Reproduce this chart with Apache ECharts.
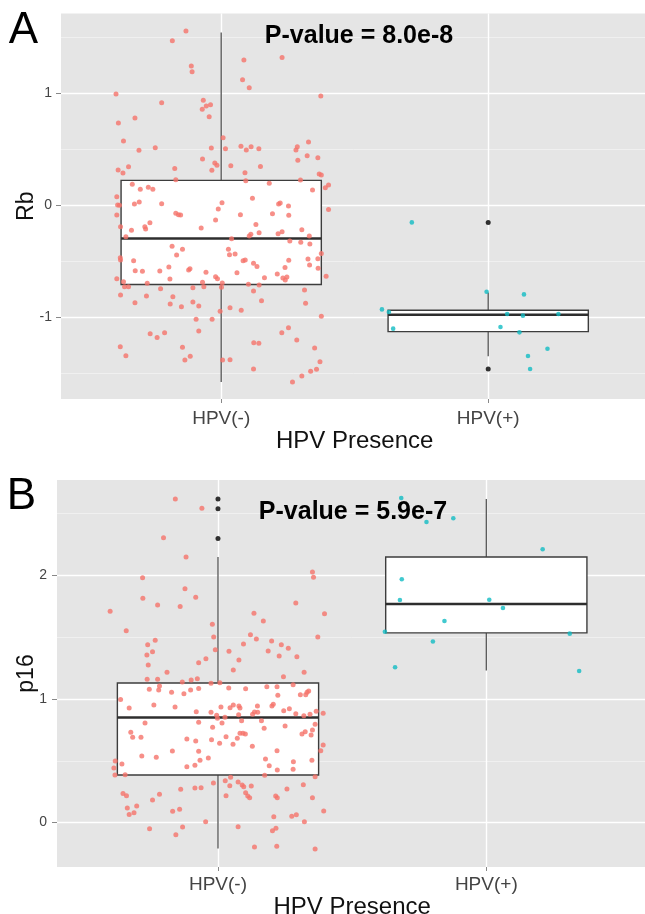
<!DOCTYPE html>
<html>
<head>
<meta charset="utf-8">
<script src="https://cdn.jsdelivr.net/npm/echarts@6/dist/echarts.min.js"></script>
<style>html,body{margin:0;padding:0;background:#fff;}#c{width:645px;height:914px;}</style>
</head>
<body>
<div id="c"></div>
<script>
// ---------- DATA ----------
const categories = ['HPV(-)', 'HPV(+)'];
const xAxisTitle = 'HPV Presence';
const panelTitles = ['A', 'B'];
const pValueTexts = ['P-value = 8.0e-8', 'P-value = 5.9e-7'];
const yTitles = ['Rb', 'p16'];
const categoryPositions = [1, 2];
const rbTicks = [-1, 0, 1];
const rbMinorTicks = [-1.5, -0.5, 0.5, 1.5];
const p16Ticks = [0, 1, 2];
const p16MinorTicks = [-0.5, 0.5, 1.5, 2.5];

// box stats: [min whisker, Q1, median, Q3, max whisker]
const rbBoxNeg = [-1.58, -0.71, -0.30, 0.22, 1.54];
const rbBoxPos = [-1.35, -1.13, -0.98, -0.94, -0.78];
const rbOutliersPos = [-0.155, -1.464];
const p16BoxNeg = [-0.21, 0.385, 0.85, 1.13, 2.15];
const p16BoxPos = [1.23, 1.535, 1.77, 2.15, 2.62];
const p16OutliersNeg = [2.62, 2.54, 2.30];

// jittered points: [horizontal jitter offset, value]
const rbNeg = [
[-0.132,1.554],[-0.183,1.467],[-0.112,1.241],[-0.109,1.190],[0.085,1.295],[0.228,1.318],[0.080,1.119],[0.105,1.047],
[-0.394,0.991],[0.373,0.973],[-0.223,0.914],[-0.067,0.935],[-0.056,0.884],[-0.040,0.896],[-0.071,0.854],[-0.045,0.789],
[-0.385,0.732],[-0.323,0.777],[-0.366,0.571],[-0.308,0.488],[-0.247,0.512],[0.007,0.601],[-0.037,0.509],[0.016,0.503],
[0.074,0.524],[0.094,0.491],[0.112,0.521],[0.141,0.503],[0.280,0.491],[0.285,0.521],[0.327,0.563],[0.322,0.440],
[0.362,0.423],[0.287,0.399],[-0.070,0.411],[-0.024,0.375],[-0.016,0.354],[0.036,0.351],[0.147,0.345],[-0.386,0.313],
[-0.368,0.286],[-0.347,0.342],[-0.174,0.327],[-0.035,0.310],[0.089,0.289],[0.367,0.277],[0.375,0.268],[-0.170,0.226],
[0.092,0.217],[0.180,0.194],[0.297,0.223],[0.402,0.179],[0.390,0.155],[-0.333,0.185],[-0.303,0.140],[-0.273,0.158],
[-0.256,0.140],[0.342,0.134],
[-0.391,0.074],[-0.388,0.000],[-0.381,-0.003],[-0.391,-0.089],[-0.377,-0.193],[-0.357,-0.283],[-0.336,-0.226],[-0.325,0.009],
[-0.307,0.027],[-0.286,-0.193],[-0.283,-0.214],[-0.267,-0.158],[-0.223,0.012],[-0.170,-0.074],[-0.160,-0.086],[-0.152,-0.089],
[-0.075,-0.205],[-0.021,-0.134],[-0.011,-0.036],[0.003,0.021],[0.072,-0.086],[0.117,0.060],[0.130,-0.173],[0.142,-0.247],
[0.105,-0.277],[0.111,-0.262],[0.192,-0.077],[0.215,0.009],[0.221,0.018],[0.252,-0.009],[0.253,-0.092],[0.213,-0.256],
[0.228,-0.238],[0.257,-0.321],[0.302,-0.220],[0.298,-0.333],[0.332,-0.348],[0.330,-0.277],[0.402,-0.039],[0.375,-0.432],
[0.362,-0.479],[0.325,-0.482],[0.331,-0.536],[0.363,-0.565],[0.393,-0.637],[0.253,-0.494],[0.239,-0.557],[0.210,-0.616],
[0.231,-0.652],[0.246,-0.643],[0.240,-0.670],[0.162,-0.649],[0.142,-0.714],[0.102,-0.708],[0.121,-0.768],[0.151,-0.854],
[0.121,-0.521],[0.134,-0.548],[0.059,-0.604],[0.090,-0.491],[0.082,-0.497],[0.027,-0.396],[0.031,-0.443],[0.052,-0.438],
[0.039,-0.301],[-0.021,-0.640],[-0.014,-0.658],[0.004,-0.696],[0.001,-0.735],[-0.004,-0.949],[0.033,-0.917],[0.075,-0.940],
[-0.057,-0.601],[-0.070,-0.690],[-0.065,-0.729],[-0.106,-0.738],[-0.106,-0.866],[-0.084,-0.902],[-0.094,-1.021],[-0.034,-1.021],
[-0.084,-1.125],[-0.122,-0.580],[-0.117,-0.568],[-0.192,-0.661],[-0.196,-0.554],[-0.230,-0.589],[-0.227,-0.747],[-0.167,-0.446],
[-0.184,-0.369],[-0.145,-0.396],[-0.181,-0.819],[-0.191,-0.884],[-0.149,-0.908],[-0.212,-1.140],[-0.266,-1.149],[-0.240,-1.182],
[-0.280,-0.813],[-0.323,-0.872],[-0.377,-0.804],[-0.362,-0.729],[-0.347,-0.729],[-0.366,-0.685],[-0.391,-0.658],[-0.277,-0.699],
[-0.322,-0.586],[-0.295,-0.592],[-0.328,-0.497],[-0.378,-0.470],[-0.377,-0.491],[-0.378,-1.265],[-0.357,-1.345],[-0.145,-1.271],
[-0.136,-1.384],[-0.116,-1.351],[0.005,-1.384],[0.033,-1.381],[0.122,-1.229],[0.141,-1.235],[0.121,-1.464],[0.227,-1.140],
[0.252,-1.095],[0.283,-1.205],[0.350,-1.277],[0.370,-1.399],[0.357,-1.467],[0.335,-1.485],[0.302,-1.527],[0.267,-1.580],
[0.375,-0.994],[0.312,-0.759],[0.316,-0.878]
];
const rbPos = [
[-0.286,-0.155],[-0.006,-0.774],[0.134,-0.798],[-0.398,-0.932],[-0.372,-0.955],[-0.356,-1.104],[0.071,-0.973],
[0.130,-0.988],[0.263,-0.973],[0.046,-1.089],[0.117,-1.137],[0.222,-1.283],[0.149,-1.348],[0.157,-1.464]
];
const p16Neg = [
[-0.159,2.619],[-0.060,2.544],[-0.203,2.306],[-0.119,2.150],[-0.281,1.982],[-0.123,1.893],[-0.280,1.815],[-0.083,1.823],
[-0.225,1.761],[-0.141,1.748],[-0.402,1.710],[-0.342,1.553],[-0.262,1.440],[-0.234,1.475],[-0.265,1.356],[-0.244,1.383],
[-0.260,1.275],[-0.190,1.216],[-0.264,1.159],[-0.225,1.159],[-0.021,1.605],[-0.016,1.502],[-0.010,1.399],[-0.072,1.294],
[-0.045,1.326],[0.041,1.386],[0.078,1.316],[0.057,1.235],[0.095,1.445],[0.121,1.521],[0.143,1.486],[0.134,1.694],
[0.169,1.632],[0.187,1.389],[0.200,1.470],[0.228,1.348],[0.236,1.440],[0.262,1.410],[0.294,1.343],[0.290,1.777],
[0.244,1.181],[0.321,1.216],[0.352,2.028],[0.356,1.985],[0.397,1.691],[0.372,1.502],[0.007,1.132],[-0.026,1.127],
[-0.077,1.165],[-0.100,1.154],[-0.133,1.138],
[-0.256,1.078],[-0.221,1.073],[-0.218,1.105],[-0.173,1.054],[-0.127,1.043],[-0.102,1.073],[-0.072,1.086],[-0.363,0.997],
[-0.331,0.927],[-0.239,0.951],[-0.160,0.935],[-0.081,0.897],[-0.026,0.892],[-0.005,0.868],[0.011,0.935],[0.026,0.852],
[0.040,1.089],[0.045,0.930],[0.057,0.951],[0.078,0.943],[0.082,0.927],[0.077,0.873],[0.103,1.083],[0.129,0.876],
[0.136,0.895],[0.148,0.892],[0.147,0.943],[0.182,1.100],[0.220,1.100],[0.223,1.030],[0.201,0.943],[0.206,0.957],
[0.245,0.905],[0.266,0.922],[0.280,1.116],[0.290,0.881],[0.307,1.035],[0.327,1.035],[0.332,1.054],[0.338,1.065],
[0.320,0.865],[0.343,0.876],[0.366,0.900],[0.392,0.884],[0.362,0.795],[0.352,0.749],[0.325,0.735],[0.313,0.717],
[0.347,0.709],[0.250,0.781],[0.172,0.763],[0.162,0.824],[0.088,0.824],[0.082,0.722],[0.093,0.722],[0.102,0.717],
[0.072,0.682],[0.056,0.633],[0.030,0.695],[0.006,0.641],[0.015,0.806],[-0.020,0.771],[-0.002,0.844],[-0.024,0.671],
[-0.072,0.811],[-0.116,0.676],[-0.083,0.660],[-0.072,0.577],[-0.067,0.504],[-0.086,0.463],[-0.116,0.452],[-0.036,0.522],
[0.128,0.617],[0.177,0.514],[0.191,0.460],[0.221,0.425],[0.220,0.581],[0.281,0.492],[0.280,0.431],[0.350,0.504],
[0.383,0.581],[0.392,0.628],[0.174,0.382],[0.362,0.371],[-0.170,0.579],[-0.230,0.528],[-0.284,0.538],[-0.325,0.730],
[-0.318,0.690],[-0.287,0.690],[-0.272,0.806],[-0.358,0.474],[-0.383,0.498],[-0.388,0.441],[-0.384,0.385],[-0.346,0.387],
[-0.354,0.236],[-0.341,0.217],[-0.303,0.134],[-0.338,0.117],[-0.331,0.066],[-0.313,0.079],[-0.244,0.182],[-0.218,0.228],
[-0.255,-0.050],[-0.157,-0.099],[-0.132,-0.036],[-0.169,0.091],[-0.143,0.107],[-0.139,0.269],[-0.086,0.279],[-0.063,0.282],
[-0.046,0.007],[-0.017,0.320],[0.027,0.339],[0.047,0.366],[0.044,0.298],[0.030,0.217],[0.075,0.328],[0.090,0.304],
[0.096,0.290],[0.124,0.296],[0.103,0.242],[0.111,0.215],[0.118,0.201],[0.075,-0.034],[0.136,-0.198],[0.219,-0.193],
[0.362,-0.215],[0.208,0.047],[0.203,-0.066],[0.216,-0.047],[0.215,0.215],[0.221,0.201],[0.257,0.271],[0.318,0.306],
[0.352,0.201],[0.394,0.093],[0.275,0.050],[0.292,0.063],[0.322,0.007]
];
const p16Pos = [
[-0.317,2.627],[-0.223,2.433],[-0.123,2.463],[0.210,2.212],[-0.315,1.969],[-0.322,1.802],[0.011,1.804],
[0.062,1.737],[-0.156,1.632],[-0.378,1.545],[0.311,1.529],[-0.199,1.465],[-0.340,1.257],[0.346,1.227]
];

// ---------- CHART ----------
const FONT = '"Liberation Sans", Arial, Helvetica, sans-serif';
const RED = '#F5736A', TEAL = '#12BCC3';
const chart = echarts.init(document.getElementById('c'), null, {renderer: 'canvas'});

function renderBox(params, api) {
  const x = api.value(0);
  const half = 0.375;
  const c = api.coord([x, api.value(3)]);
  const pMin = api.coord([x, api.value(1)]);
  const pQ1 = api.coord([x, api.value(2)]);
  const pQ3 = api.coord([x, api.value(4)]);
  const pMax = api.coord([x, api.value(5)]);
  const xl = api.coord([x - half, 0])[0];
  const xr = api.coord([x + half, 0])[0];
  const lineStyle = {stroke: '#555', lineWidth: 1.3};
  return {
    type: 'group',
    children: [
      {type: 'line', shape: {x1: c[0], y1: pMax[1], x2: c[0], y2: pQ3[1]}, style: lineStyle},
      {type: 'line', shape: {x1: c[0], y1: pQ1[1], x2: c[0], y2: pMin[1]}, style: lineStyle},
      {type: 'rect', shape: {x: xl, y: pQ3[1], width: xr - xl, height: pQ1[1] - pQ3[1]},
        style: {fill: '#fff', stroke: '#3d3d3d', lineWidth: 1.4}},
      {type: 'line', shape: {x1: xl, y1: c[1], x2: xr, y2: c[1]}, style: {stroke: '#2e2e2e', lineWidth: 2.5}}
    ]
  };
}

function xAxisFor(gi, margin, gap) {
  return {
    type: 'value', gridIndex: gi, min: 0.4, max: 2.6, position: 'bottom',
    name: xAxisTitle, nameLocation: 'middle', nameGap: gap,
    nameTextStyle: {fontFamily: FONT, fontSize: 24, color: '#111'},
    axisLine: {show: false, onZero: false},
    axisTick: {show: true, length: 4, customValues: categoryPositions, lineStyle: {color: '#888', width: 1}},
    axisLabel: {customValues: categoryPositions, margin: margin, fontFamily: FONT, fontSize: 19, color: '#444',
      formatter: v => categories[Math.round(v) - 1]},
    splitLine: {show: false}
  };
}
function yAxisFor(gi, min, max, ticks, name, gap, margin) {
  return {
    type: 'value', gridIndex: gi, min: min, max: max, position: 'left',
    name: name, nameLocation: 'middle', nameGap: gap, nameMoveOverlap: false,
    nameTextStyle: {fontFamily: FONT, fontSize: 23, color: '#111'},
    axisLine: {show: false, onZero: false},
    axisTick: {show: true, length: 5, customValues: ticks, lineStyle: {color: '#888', width: 1}},
    axisLabel: {customValues: ticks, margin: margin, fontFamily: FONT, fontSize: 14, color: '#444'},
    splitLine: {show: true, lineStyle: {color: '#ffffff', width: 1.4}}
  };
}
function minorAxisFor(gi, min, max, ticks) {
  return {
    type: 'value', gridIndex: gi, min: min, max: max, position: 'left',
    axisLine: {show: false, onZero: false},
    axisTick: {show: false, customValues: ticks},
    axisLabel: {show: false, customValues: ticks},
    splitLine: {show: true, lineStyle: {color: '#F2F2F2', width: 0.8}}
  };
}

const rbMin = -1.732, rbMax = 1.71;
const pMin = -0.36, pMax = 2.773;

// vertical category grid lines (drawn beneath the boxes)
function vGridSeries(gi, yi) {
  return {
    type: 'scatter', xAxisIndex: gi, yAxisIndex: yi, data: [], z: 1, silent: true,
    markLine: {z: 1, silent: true, symbol: ['none', 'none'], label: {show: false},
      lineStyle: {color: '#ffffff', width: 1.4, type: 'solid'},
      emphasis: {disabled: true},
      data: categoryPositions.map(v => ({xAxis: v}))}
  };
}

const option = {
  animation: false,
  backgroundColor: '#ffffff',
  grid: [
    {left: 61, top: 13.5, width: 587.4, height: 385.5, show: true, backgroundColor: '#E5E5E5', borderWidth: 0, outerBoundsMode: 'none'},
    {left: 57, top: 480, width: 590.3, height: 387, show: true, backgroundColor: '#E5E5E5', borderWidth: 0, outerBoundsMode: 'none'}
  ],
  xAxis: [xAxisFor(0, 10, 26), xAxisFor(1, 8, 24)],
  yAxis: [
    yAxisFor(0, rbMin, rbMax, rbTicks, yTitles[0], 23, 9),
    minorAxisFor(0, rbMin, rbMax, rbMinorTicks),
    yAxisFor(1, pMin, pMax, p16Ticks, yTitles[1], 19, 10),
    minorAxisFor(1, pMin, pMax, p16MinorTicks)
  ],
  series: [
    vGridSeries(0, 0),
    {type: 'custom', xAxisIndex: 0, yAxisIndex: 0, renderItem: renderBox, z: 2,
      encode: {x: 0, y: [1, 2, 3, 4, 5]},
      data: [[categoryPositions[0]].concat(rbBoxNeg), [categoryPositions[1]].concat(rbBoxPos)]},
    {type: 'scatter', xAxisIndex: 0, yAxisIndex: 0, symbolSize: 5, z: 3,
      itemStyle: {color: '#000'}, data: rbOutliersPos.map(v => [categoryPositions[1], v])},
    {type: 'scatter', xAxisIndex: 0, yAxisIndex: 0, symbolSize: 5, z: 4,
      itemStyle: {color: RED}, data: rbNeg.map(p => [categoryPositions[0] + p[0], p[1]])},
    {type: 'scatter', xAxisIndex: 0, yAxisIndex: 0, symbolSize: 4.6, z: 4,
      itemStyle: {color: TEAL}, data: rbPos.map(p => [categoryPositions[1] + p[0], p[1]])},

    vGridSeries(1, 2),
    {type: 'custom', xAxisIndex: 1, yAxisIndex: 2, renderItem: renderBox, z: 2,
      encode: {x: 0, y: [1, 2, 3, 4, 5]},
      data: [[categoryPositions[0]].concat(p16BoxNeg), [categoryPositions[1]].concat(p16BoxPos)]},
    {type: 'scatter', xAxisIndex: 1, yAxisIndex: 2, symbolSize: 5, z: 3,
      itemStyle: {color: '#000'}, data: p16OutliersNeg.map(v => [categoryPositions[0], v])},
    {type: 'scatter', xAxisIndex: 1, yAxisIndex: 2, symbolSize: 5, z: 4,
      itemStyle: {color: RED}, data: p16Neg.map(p => [categoryPositions[0] + p[0], p[1]])},
    {type: 'scatter', xAxisIndex: 1, yAxisIndex: 2, symbolSize: 4.6, z: 4,
      itemStyle: {color: TEAL}, data: p16Pos.map(p => [categoryPositions[1] + p[0], p[1]])}
  ],
  graphic: [
    {type: 'text', x: 23.5, y: 31, z: 100, style: {text: panelTitles[0], fontFamily: FONT, fontSize: 44, fill: '#000', align: 'center', verticalAlign: 'middle'}},
    {type: 'text', x: 21.5, y: 497, z: 100, style: {text: panelTitles[1], fontFamily: FONT, fontSize: 44, fill: '#000', align: 'center', verticalAlign: 'middle'}},
    {type: 'text', x: 359, y: 36, z: 100, style: {text: pValueTexts[0], fontFamily: FONT, fontSize: 25, fontWeight: 'bold', fill: '#000', align: 'center', verticalAlign: 'middle'}},
    {type: 'text', x: 353, y: 512.5, z: 100, style: {text: pValueTexts[1], fontFamily: FONT, fontSize: 25, fontWeight: 'bold', fill: '#000', align: 'center', verticalAlign: 'middle'}}
  ]
};
chart.setOption(option);
</script>
</body>
</html>
